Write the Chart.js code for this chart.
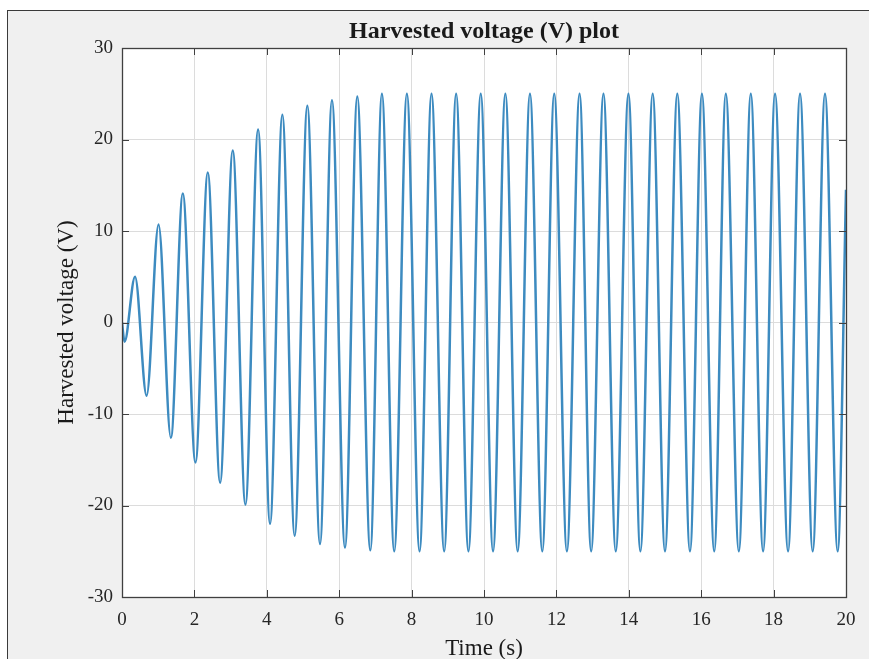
<!DOCTYPE html>
<html>
<head>
<meta charset="utf-8">
<script src="https://cdn.jsdelivr.net/npm/chart.js@4.4.1/dist/chart.umd.min.js"></script>
<style>
  html, body { margin: 0; padding: 0; background: #ffffff; width: 869px; height: 659px; overflow: hidden; }
  #frame { position: absolute; left: 7px; top: 10px; width: 900px; height: 700px; background: #f0f0f0; border-left: 1px solid #3a3a3a; border-top: 1px solid #3a3a3a; }
  #c { position: absolute; left: 0; top: 0; }
</style>
</head>
<body>
<div id="frame"></div>
<canvas id="c" width="869" height="659"></canvas>
<script>
// Time (s) of each extremum (start, peaks/troughs, end)
const timeSeconds = [0, 0.07, 0.36, 0.68, 1.01, 1.35, 1.68, 2.03, 2.37, 2.71, 3.06, 3.41, 3.76, 4.09, 4.43, 4.77, 5.12, 5.47, 5.80, 6.16, 6.50, 6.86, 7.18, 7.52, 7.87, 8.22, 8.55, 8.90, 9.23, 9.57, 9.91, 10.25, 10.59, 10.93, 11.27, 11.61, 11.94, 12.29, 12.64, 12.96, 13.30, 13.64, 13.99, 14.32, 14.66, 15.00, 15.34, 15.69, 16.02, 16.36, 16.68, 17.04, 17.37, 17.71, 18.04, 18.40, 18.73, 19.08, 19.42, 19.77, 20.0];
// Harvested voltage (V) at those times
const voltageV = [0, -2.1, 5.0, -8.0, 10.7, -12.6, 14.1, -15.3, 16.4, -17.5, 18.8, -19.9, 21.1, -22.0, 22.7, -23.3, 23.7, -24.2, 24.3, -24.6, 24.7, -24.9, 25, -25, 25, -25, 25, -25, 25, -25, 25, -25, 25, -25, 25, -25, 25, -25, 25, -25, 25, -25, 25, -25, 25, -25, 25, -25, 25, -25, 25, -25, 25, -25, 25, -25, 25, -25, 25, -25, 14.5];
const xTicks = [0, 2, 4, 6, 8, 10, 12, 14, 16, 18, 20];
const yTicks = [-30, -20, -10, 0, 10, 20, 30];
const titleText = 'Harvested voltage (V) plot';
const xTitle = 'Time (s)';
const yTitle = 'Harvested voltage (V)';

const points = timeSeconds.map((t, i) => ({ x: t, y: voltageV[i] }));

const boxPlugin = {
  id: 'box',
  beforeDraw(chart) {
    const { ctx, chartArea: a } = chart;
    ctx.save();
    ctx.fillStyle = '#ffffff';
    ctx.fillRect(a.left, a.top, a.right - a.left, a.bottom - a.top);
    ctx.restore();
  },
  afterDraw(chart) {
    const { ctx, chartArea: a, scales } = chart;
    const tl = 7;
    ctx.save();
    ctx.strokeStyle = '#404040';
    ctx.lineWidth = 1;
    ctx.beginPath();
    xTicks.forEach(v => {
      const px = Math.round(scales.x.getPixelForValue(v)) + 0.5;
      ctx.moveTo(px, a.bottom); ctx.lineTo(px, a.bottom - tl);
      ctx.moveTo(px, a.top); ctx.lineTo(px, a.top + tl);
    });
    yTicks.forEach(v => {
      const py = Math.round(scales.y.getPixelForValue(v)) + 0.5;
      ctx.moveTo(a.left, py); ctx.lineTo(a.left + tl, py);
      ctx.moveTo(a.right, py); ctx.lineTo(a.right - tl, py);
    });
    ctx.stroke();
    ctx.lineWidth = 1.3;
    ctx.strokeRect(Math.round(a.left) + 0.5, Math.round(a.top) + 0.5, Math.round(a.right - a.left), Math.round(a.bottom - a.top));
    ctx.restore();
  }
};

new Chart(document.getElementById('c'), {
  type: 'line',
  data: {
    datasets: [{
      data: points,
      borderColor: '#3d8bc0',
      borderWidth: 2.5,
      pointRadius: 0,
      fill: false,
      cubicInterpolationMode: 'monotone'
    }]
  },
  options: {
    responsive: false,
    animation: false,
    devicePixelRatio: 1,
    layout: { padding: { left: 0, right: 23, top: 0, bottom: 0 } },
    plugins: {
      legend: { display: false },
      tooltip: { enabled: false },
      title: {
        display: true,
        fullSize: false,
        text: titleText,
        color: '#1a1a1a',
        font: { family: 'Liberation Serif', size: 24, weight: 'bold', lineHeight: 1.2 },
        padding: { top: 17, bottom: 2.2 }
      }
    },
    scales: {
      x: {
        type: 'linear',
        min: 0, max: 20,
        afterBuildTicks(scale) { scale.ticks = xTicks.map(v => ({ value: v })); },
        afterFit(scale) { scale.height = 62; },
        border: { display: false },
        grid: { color: '#dcdcdc', lineWidth: 1, drawTicks: false },
        ticks: {
          color: '#262626',
          padding: 12,
          maxRotation: 0,
          font: { family: 'Liberation Serif', size: 19 }
        },
        title: {
          display: true,
          text: xTitle,
          color: '#1a1a1a',
          font: { family: 'Liberation Serif', size: 23, lineHeight: 0.85 },
          padding: { top: 0, bottom: 0 }
        }
      },
      y: {
        type: 'linear',
        min: -30, max: 30,
        afterBuildTicks(scale) { scale.ticks = yTicks.map(v => ({ value: v })); },
        afterFit(scale) { scale.width = 122; },
        border: { display: false },
        grid: { color: '#dcdcdc', lineWidth: 1, drawTicks: false },
        ticks: {
          color: '#262626',
          padding: 9,
          font: { family: 'Liberation Serif', size: 19 }
        },
        title: {
          display: true,
          text: yTitle,
          color: '#1a1a1a',
          font: { family: 'Liberation Serif', size: 23, lineHeight: 1.2 },
          padding: { top: 53, bottom: 0 }
        }
      }
    }
  },
  plugins: [boxPlugin]
});
</script>
</body>
</html>
